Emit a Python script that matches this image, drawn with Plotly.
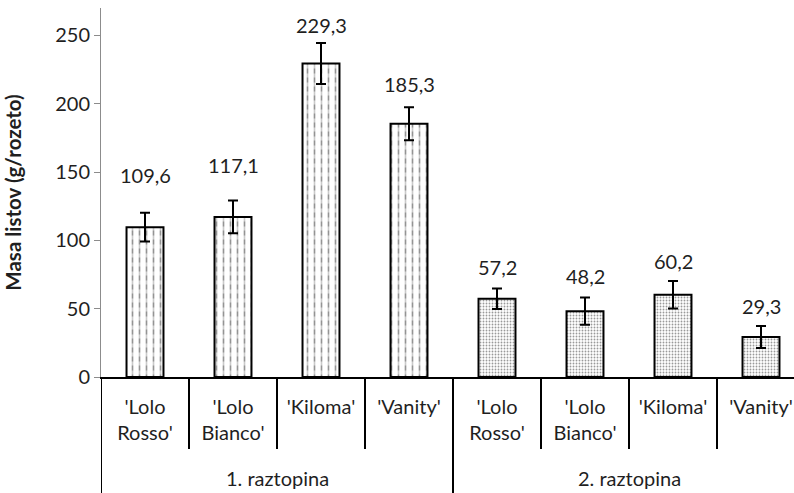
import plotly.graph_objects as go

# Leaf mass per rosette for four lettuce cultivars grown in two nutrient solutions
groups = ["1. raztopina", "2. raztopina"]
cultivars = ["'Lolo<br>Rosso'", "'Lolo<br>Bianco'", "'Kiloma'", "'Vanity'"]
mass_sol1 = [109.6, 117.1, 229.3, 185.3]
mass_sol2 = [57.2, 48.2, 60.2, 29.3]
err_sol1 = [10.5, 12.0, 15.0, 12.0]
err_sol2 = [7.5, 10.0, 10.0, 8.0]
y_ticks = [0, 50, 100, 150, 200, 250]

FONT = "Lato"
TXT = "#1f1f1f"
n_cat = len(cultivars)
x1 = list(range(n_cat))
x2 = list(range(n_cat, 2 * n_cat))
BAR_W = 0.42
err_style = dict(type="data", color="black", thickness=2, width=5)

fig = go.Figure()

# solution 1: vertical hatch, then white horizontal stripes on top to break it into dashes
fig.add_trace(go.Bar(
    x=x1, y=mass_sol1, width=BAR_W, hoverinfo="skip",
    marker=dict(color="white", line=dict(width=0),
                pattern=dict(shape="|", size=7, solidity=0.24, fgcolor="#2a2a2a", bgcolor="white")),
    showlegend=False,
))
fig.add_trace(go.Bar(
    x=x1, y=mass_sol1, width=BAR_W,
    marker=dict(color="rgba(0,0,0,0)", line=dict(color="black", width=2),
                pattern=dict(shape="-", size=9, solidity=0.45, fgcolor="white",
                             bgcolor="rgba(0,0,0,0)", fillmode="overlay")),
    error_y=dict(array=err_sol1, **err_style),
    showlegend=False,
))
# solution 2: fine stipple
fig.add_trace(go.Bar(
    x=x2, y=mass_sol2, width=BAR_W,
    marker=dict(color="white", line=dict(color="black", width=2),
                pattern=dict(shape=".", size=3, solidity=0.3, fgcolor="#333333", bgcolor="white")),
    error_y=dict(array=err_sol2, **err_style),
    showlegend=False,
))

# value labels placed above each error bar
values = mass_sol1 + mass_sol2
errors = err_sol1 + err_sol2
label_gap = [27.5, 26, 13.5, 17, 15.5, 15.5, 14.5, 14.5]
for i, (v, e, g) in enumerate(zip(values, errors, label_gap)):
    fig.add_annotation(x=i, y=v + e + g, text=f"{v:.1f}".replace(".", ","),
                       showarrow=False, xref="x", yref="y",
                       font=dict(family=FONT, size=20, color=TXT))

# category separators under the axis; group boundaries reach further down
plot_h = 369.4
inner_len = 72 / plot_h
outer_len = 118 / plot_h
for b in range(2 * n_cat + 1):
    xb = b - 0.5
    length = outer_len if b % n_cat == 0 else inner_len
    fig.add_shape(type="line", xref="x", yref="paper", x0=xb, x1=xb, y0=0, y1=-length,
                  line=dict(color="black", width=2))

# group names
for gi, name in enumerate(groups):
    fig.add_annotation(x=gi * n_cat + (n_cat - 1) / 2, y=-101 / plot_h, xref="x", yref="paper",
                       yanchor="middle", text=name, showarrow=False,
                       font=dict(family=FONT, size=20, color=TXT))

fig.update_layout(
    width=794, height=493,
    margin=dict(l=101, r=0, t=8, b=116),
    paper_bgcolor="white", plot_bgcolor="white",
    barmode="overlay",
    font=dict(family=FONT, size=20, color=TXT),
    xaxis=dict(
        range=[-0.5, 2 * n_cat - 0.5 - 11 / 88],
        tickmode="array", tickvals=x1 + x2, ticktext=cultivars + cultivars,
        ticks="", showline=True, linecolor="black", linewidth=2,
        showgrid=False, zeroline=False, ticklabelstandoff=11,
        tickfont=dict(family=FONT, size=20, color=TXT),
    ),
    yaxis=dict(
        range=[0, 270], tickmode="array", tickvals=y_ticks,
        ticks="outside", ticklen=6, tickcolor="#8c8c8c", tickwidth=1,
        showline=True, linecolor="#8c8c8c", linewidth=1,
        showgrid=False, zeroline=False,
        tickfont=dict(family=FONT, size=20, color=TXT),
        title=dict(text="<b>Masa listov (g/rozeto)</b>", standoff=28,
                   font=dict(family=FONT, size=20.5, color=TXT)),
    ),
)

fig.write_html("out.html")
